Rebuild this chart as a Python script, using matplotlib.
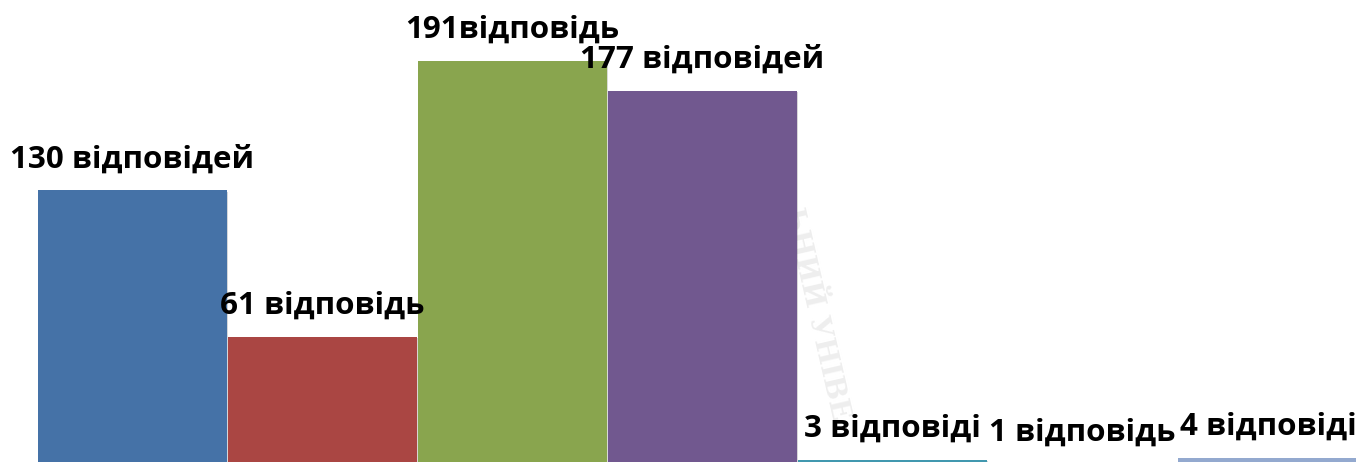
import matplotlib.pyplot as plt
import matplotlib.patheffects as pe

values = [130, 61, 191, 177, 3, 1, 4]
labels = ["130 відповідей", "61 відповідь", "191відповідь", "177 відповідей",
          "3 відповіді", "1 відповідь", "4 відповіді"]
colors = ["#4572A7", "#AA4643", "#89A54E", "#71588F", "#4198AF", "#DB843D", "#93A9CF"]
label_dx = [0, 0, 0, 0, 0, 0, -4]  # pixel nudges of the labels

fig = plt.figure(figsize=(13.56, 4.62), dpi=100)
ax = fig.add_axes([0, -4 / 462, 1, 466 / 462])
ax.set_xlim(-132.5 / 190, (1356 - 132.5) / 190)
ax.set_ylim(0, 466 / 2.12)
ax.axis("off")

# faint watermark of a stamp behind the chart
ax.text(3.6, 72, "ЬНИЙ УНІВЕ", rotation=-77, fontsize=20, fontweight="bold",
        family="DejaVu Serif", color="#eeeeee", ha="center", va="center", zorder=0)

x = range(len(values))
bars = ax.bar(x, values, width=0.99, color=colors, linewidth=0, zorder=2)
for b in bars:
    b.set_path_effects([pe.SimplePatchShadow(offset=(1.2, -0.8), alpha=0.18), pe.Normal()])

for i, (v, lab) in enumerate(zip(values, labels)):
    ax.annotate(lab, (i, v), xytext=(label_dx[i] * 0.72, 23 * 0.72), textcoords="offset points",
                ha="center", va="baseline", fontsize=22.6, fontweight="bold",
                family="Open Sans", color="black", zorder=3)

fig.savefig("out.png", dpi=100)
